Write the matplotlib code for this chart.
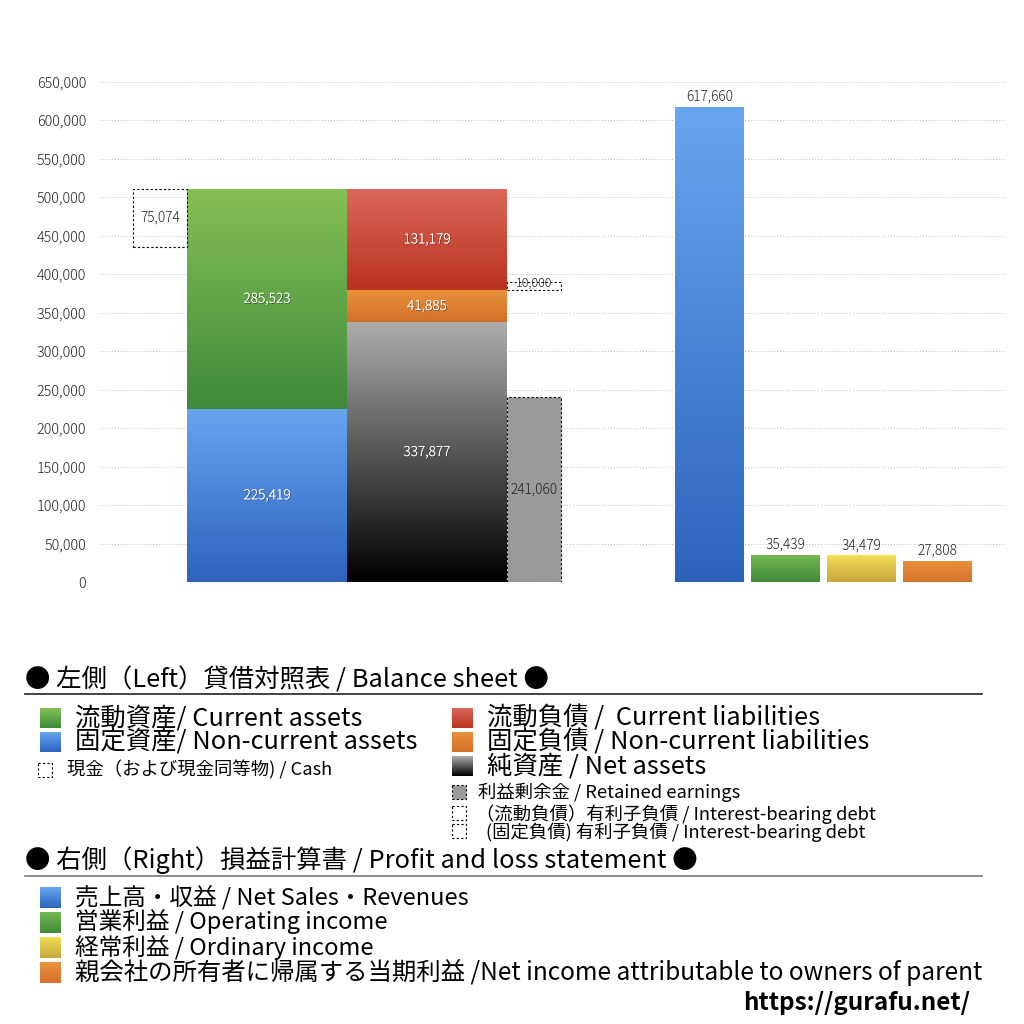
import numpy as np
import matplotlib
matplotlib.use("Agg")
import matplotlib.pyplot as plt
from matplotlib.colors import to_rgb
from matplotlib.patches import Rectangle
import matplotlib.patheffects as pe

plt.rcParams['font.family'] = ['Noto Sans CJK JP', 'DejaVu Sans']

# ---------------- data ----------------
current_assets = 285523
noncurrent_assets = 225419
cash = 75074
current_liabilities = 131179
noncurrent_liabilities = 41885
net_assets = 337877
retained_earnings = 241060
interest_debt_current = 10000

pl_labels = ["売上高・収益", "営業利益", "経常利益", "当期利益"]
pl_values = [617660, 35439, 34479, 27808]

yticks = list(range(0, 650001, 50000))

# ---------------- layout ----------------
W = H = 1024
fig = plt.figure(figsize=(10.24, 10.24), dpi=100)
X0, X1 = 100, 1005
Y0, Y1 = 582, 82
ax = fig.add_axes([X0 / W, 1 - Y0 / H, (X1 - X0) / W, (Y0 - Y1) / H])
ax.set_xlim(X0, X1)
ax.set_ylim(0, 650000)

def grad_bar(ax, x, w, bottom, height, top_c, bot_c, z=2):
    bars = ax.bar(x, height, w, bottom=bottom, align='edge', color=bot_c, linewidth=0, zorder=z)
    t = np.array(to_rgb(top_c)); b = np.array(to_rgb(bot_c))
    f = np.linspace(0, 1, 256)[:, None]
    img = (b + (t - b) * f)[:, None, :]
    im = ax.imshow(img, extent=[x, x + w, bottom, bottom + height], origin='lower',
                   aspect='auto', zorder=z + 0.1, interpolation='bilinear')
    im.set_clip_path(bars[0])
    return bars

DASH = (0, (2, 2))
shadow = [pe.withSimplePatchShadow(offset=(0.6, -0.6), shadow_rgbFace='#333333', alpha=0.7)]

def in_label(x, y, s, color='white'):
    kw = dict(ha='center', va='center', fontsize=9.8, color=color, zorder=5, fontweight='light')
    if color == 'white':
        kw['path_effects'] = shadow + [pe.Normal()]
    ax.text(x, y, s, **kw)

# gridlines
for t in yticks:
    ax.axhline(t, color='#bbbbbb', lw=0.7, ls=(0, (1, 2)), zorder=0)

# Assets column
ax_x, bw = 187, 160
grad_bar(ax, ax_x, bw, 0, noncurrent_assets, '#68a5f0', '#2d62bd')
grad_bar(ax, ax_x, bw, noncurrent_assets, current_assets, '#86c056', '#3d8a39')
total_assets = noncurrent_assets + current_assets
in_label(ax_x + bw / 2, noncurrent_assets / 2, f"{noncurrent_assets:,}")
in_label(ax_x + bw / 2, noncurrent_assets + current_assets / 2, f"{current_assets:,}")

# Cash box
cx, cw = 133, 54
ax.bar(cx, cash, cw, bottom=total_assets - cash, align='edge', fill=False,
       edgecolor='black', linewidth=0.8, linestyle=DASH, zorder=3)
in_label(cx + cw / 2, total_assets - cash / 2, f"{cash:,}", color='#222222')

# Liabilities column
lx = 347
grad_bar(ax, lx, bw, 0, net_assets, '#acacac', '#000000')
grad_bar(ax, lx, bw, net_assets, noncurrent_liabilities, '#e8923b', '#d36f2a')
grad_bar(ax, lx, bw, net_assets + noncurrent_liabilities, current_liabilities, '#da675b', '#b9331e')
in_label(lx + bw / 2, net_assets / 2, f"{net_assets:,}")
in_label(lx + bw / 2, net_assets + noncurrent_liabilities / 2, f"{noncurrent_liabilities:,}")
in_label(lx + bw / 2, net_assets + noncurrent_liabilities + current_liabilities / 2,
         f"{current_liabilities:,}")

# Retained earnings & interest-bearing debt
rx, rw = 507, 54
ax.bar(rx, retained_earnings, rw, align='edge', color='#9a9a9a', edgecolor='black',
       linewidth=0.8, linestyle=DASH, zorder=3)
in_label(rx + rw / 2, retained_earnings / 2, f"{retained_earnings:,}", color='#222222')
debt_bottom = net_assets + noncurrent_liabilities
ax.bar(rx, interest_debt_current, rw, bottom=debt_bottom, align='edge', fill=False,
       edgecolor='black', linewidth=0.8, linestyle=DASH, zorder=3)
ax.text(rx + rw / 2, debt_bottom + interest_debt_current / 2 + 3000, f"{interest_debt_current:,}",
        ha='center', va='center', fontsize=9, color='#222222', zorder=5, fontweight='light')

# P&L bars
pl_x = [675, 751, 827, 903]
pw = 69
pl_colors = [('#68a6f0', '#2d62bb'), ('#76b853', '#3e8b39'),
             ('#f2dd56', '#c6a63a'), ('#e9933d', '#d5712b')]
for x, v, (tc, bc) in zip(pl_x, pl_values, pl_colors):
    grad_bar(ax, x, pw, 0, v, tc, bc)
    ax.text(x + pw / 2, v + 4000, f"{v:,}", ha='center', va='bottom', fontsize=9.8,
            color='#222222', zorder=5, fontweight='light')

ax.set_xlim(X0, X1)
ax.set_ylim(0, 650000)
ax.set_yticks(yticks)
ax.set_yticklabels([f"{t:,}" for t in yticks], fontsize=10.3, color='#222222', fontweight='light')
ax.tick_params(axis='y', length=0, pad=10)
ax.set_xticks([])
for s in ax.spines.values():
    s.set_visible(False)

# ---------------- legend area (pixel coords) ----------------
lg = fig.add_axes([0, 0, 1, 1], zorder=-1)
lg.set_xlim(0, W); lg.set_ylim(H, 0); lg.axis('off')

def lg_grad(x, y, w, h, top_c, bot_c):
    t = np.array(to_rgb(top_c)); b = np.array(to_rgb(bot_c))
    f = np.linspace(0, 1, 64)[:, None]
    img = (t + (b - t) * f)[:, None, :]
    lg.imshow(img, extent=[x, x + w, y + h, y], aspect='auto', interpolation='bilinear')

def lg_dash(x, y, w, h, fc='none'):
    lg.add_patch(Rectangle((x, y), w, h, facecolor=fc, edgecolor='black', lw=0.8, ls=DASH))

BIG = 18.3
SMALL = 13.2

lg.text(25, 680, "● 左側（Left）貸借対照表 / Balance sheet ●", fontsize=BIG, va='center', ha='left')
lg.plot([25, 982], [694, 694], color='#222222', lw=1.2)

lg_grad(40, 708, 21, 20, '#86c056', '#3d8a39')
lg.text(75, 718, "流動資産/ Current assets", fontsize=BIG, va='center')
lg_grad(40, 732, 21, 20, '#68a5f0', '#2d62bd')
lg.text(75, 742, "固定資産/ Non-current assets", fontsize=BIG, va='center')
lg_dash(38, 763, 14, 14)
lg.text(67, 770, "現金（および現金同等物) / Cash", fontsize=SMALL, va='center')

lg_grad(452, 708, 21, 20, '#da675b', '#b9331e')
lg.text(487, 718, "流動負債 /  Current liabilities", fontsize=BIG, va='center')
lg_grad(452, 732, 21, 20, '#e8923b', '#d36f2a')
lg.text(487, 742, "固定負債 / Non-current liabilities", fontsize=BIG, va='center')
lg_grad(452, 756, 21, 20, '#acacac', '#000000')
lg.text(487, 766, "純資産 / Net assets", fontsize=BIG, va='center')
lg_dash(452, 785, 14, 14, fc='#9a9a9a')
lg.text(478, 792, "利益剰余金 / Retained earnings", fontsize=SMALL, va='center')
lg_dash(452, 806, 14, 14)
lg.text(476, 814, "（流動負債）有利子負債 / Interest-bearing debt", fontsize=SMALL, va='center')
lg_dash(452, 824, 14, 14)
lg.text(486, 832, "(固定負債) 有利子負債 / Interest-bearing debt", fontsize=SMALL, va='center')

lg.text(25, 860, "● 右側（Right）損益計算書 / Profit and loss statement ●", fontsize=BIG, va='center')
lg.plot([25, 982], [876, 876], color='#777777', lw=1.2)

pl_legend = ["売上高・収益 / Net Sales・Revenues",
             "営業利益 / Operating income",
             "経常利益 / Ordinary income",
             "親会社の所有者に帰属する当期利益 /Net income attributable to owners of parent"]
pl_fs = [17.0, 17.0, 17.0, 17.6]
pl_y = [897.5, 922, 947, 972]
for i, ((tc, bc), s) in enumerate(zip(pl_colors, pl_legend)):
    y = pl_y[i]
    lg_grad(40, y - 10, 21, 21, tc, bc)
    lg.text(75, y, s, fontsize=pl_fs[i], va='center')

lg.text(970, 1003, "https://gurafu.net/", fontsize=17.5, fontweight='bold', ha='right', va='center')

fig.savefig("out.png", dpi=100, facecolor='white')
